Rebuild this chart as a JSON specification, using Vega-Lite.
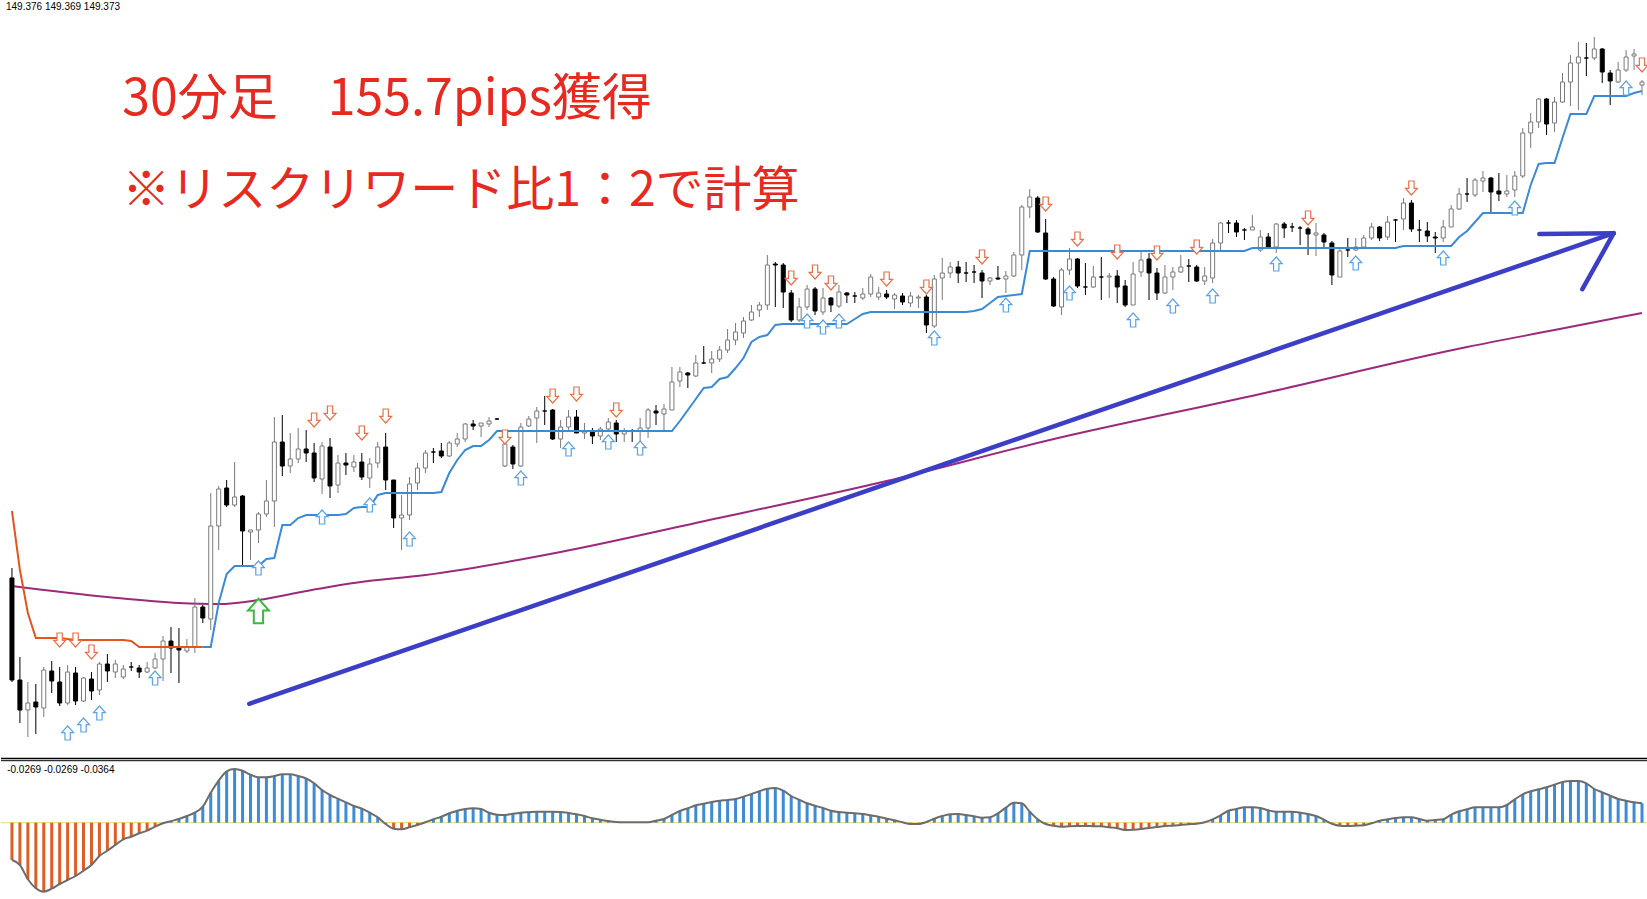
{
"$schema":"https://vega.github.io/schema/vega-lite/v6.json",
"padding":0,"spacing":0,"background":"white",
"config":{"view":{"stroke":null}},
"datasets":{
"c":[
{"i":0,"o":147.110,"h":147.160,"l":146.590,"c":146.600,"s":147.445,"m":-0.0373},
{"i":1,"o":146.600,"h":146.715,"l":146.385,"c":146.450,"s":147.150,"m":-0.0423},
{"i":2,"o":146.450,"h":146.590,"l":146.315,"c":146.485,"s":146.935,"m":-0.0566},
{"i":3,"o":146.490,"h":146.580,"l":146.330,"c":146.465,"s":146.810,"m":-0.0656},
{"i":4,"o":146.460,"h":146.665,"l":146.415,"c":146.650,"s":146.810,"m":-0.0690},
{"i":5,"o":146.645,"h":146.695,"l":146.535,"c":146.595,"s":146.810,"m":-0.0660},
{"i":6,"o":146.590,"h":146.665,"l":146.470,"c":146.485,"s":146.810,"m":-0.0613},
{"i":7,"o":146.485,"h":146.675,"l":146.475,"c":146.640,"s":146.805,"m":-0.0573},
{"i":8,"o":146.635,"h":146.665,"l":146.475,"c":146.495,"s":146.800,"m":-0.0533},
{"i":9,"o":146.495,"h":146.615,"l":146.490,"c":146.610,"s":146.800,"m":-0.0480},
{"i":10,"o":146.605,"h":146.640,"l":146.500,"c":146.545,"s":146.800,"m":-0.0423},
{"i":11,"o":146.550,"h":146.690,"l":146.525,"c":146.680,"s":146.800,"m":-0.0333},
{"i":12,"o":146.680,"h":146.730,"l":146.590,"c":146.645,"s":146.800,"m":-0.0280},
{"i":13,"o":146.640,"h":146.700,"l":146.610,"c":146.680,"s":146.800,"m":-0.0223},
{"i":14,"o":146.615,"h":146.675,"l":146.605,"c":146.655,"s":146.800,"m":-0.0166},
{"i":15,"o":146.665,"h":146.690,"l":146.645,"c":146.665,"s":146.795,"m":-0.0140},
{"i":16,"o":146.660,"h":146.675,"l":146.610,"c":146.640,"s":146.765,"m":-0.0106},
{"i":17,"o":146.640,"h":146.690,"l":146.635,"c":146.660,"s":146.765,"m":-0.0080},
{"i":18,"o":146.660,"h":146.735,"l":146.655,"c":146.705,"s":146.765,"m":-0.0040},
{"i":19,"o":146.705,"h":146.820,"l":146.595,"c":146.795,"s":146.765,"m":-0.0006},
{"i":20,"o":146.795,"h":146.865,"l":146.635,"c":146.760,"s":146.765,"m":0.0016},
{"i":21,"o":146.760,"h":146.860,"l":146.585,"c":146.750,"s":146.765,"m":0.0037},
{"i":22,"o":146.745,"h":146.805,"l":146.735,"c":146.765,"s":146.765,"m":0.0067},
{"i":23,"o":146.765,"h":147.010,"l":146.735,"c":146.965,"s":146.765,"m":0.0100},
{"i":24,"o":146.965,"h":146.975,"l":146.885,"c":146.910,"s":146.765,"m":0.0160},
{"i":25,"o":146.905,"h":147.535,"l":146.850,"c":147.370,"s":146.765,"m":0.0300},
{"i":26,"o":147.370,"h":147.570,"l":147.250,"c":147.555,"s":146.985,"m":0.0420},
{"i":27,"o":147.560,"h":147.600,"l":147.465,"c":147.475,"s":147.130,"m":0.0514},
{"i":28,"o":147.475,"h":147.690,"l":147.465,"c":147.515,"s":147.170,"m":0.0537},
{"i":29,"o":147.520,"h":147.525,"l":147.165,"c":147.345,"s":147.170,"m":0.0520},
{"i":30,"o":147.340,"h":147.350,"l":147.200,"c":147.350,"s":147.170,"m":0.0480},
{"i":31,"o":147.350,"h":147.440,"l":147.285,"c":147.430,"s":147.170,"m":0.0454},
{"i":32,"o":147.430,"h":147.600,"l":147.415,"c":147.495,"s":147.205,"m":0.0454},
{"i":33,"o":147.495,"h":147.915,"l":147.365,"c":147.790,"s":147.210,"m":0.0467},
{"i":34,"o":147.790,"h":147.925,"l":147.620,"c":147.670,"s":147.375,"m":0.0484},
{"i":35,"o":147.670,"h":147.835,"l":147.635,"c":147.705,"s":147.375,"m":0.0484},
{"i":36,"o":147.705,"h":147.860,"l":147.685,"c":147.755,"s":147.410,"m":0.0467},
{"i":37,"o":147.755,"h":147.850,"l":147.690,"c":147.735,"s":147.425,"m":0.0444},
{"i":38,"o":147.735,"h":147.785,"l":147.590,"c":147.610,"s":147.425,"m":0.0394},
{"i":39,"o":147.605,"h":147.790,"l":147.530,"c":147.770,"s":147.425,"m":0.0327},
{"i":40,"o":147.765,"h":147.810,"l":147.510,"c":147.570,"s":147.425,"m":0.0277},
{"i":41,"o":147.575,"h":147.725,"l":147.535,"c":147.685,"s":147.425,"m":0.0240},
{"i":42,"o":147.685,"h":147.735,"l":147.625,"c":147.675,"s":147.430,"m":0.0204},
{"i":43,"o":147.665,"h":147.725,"l":147.640,"c":147.690,"s":147.460,"m":0.0167},
{"i":44,"o":147.690,"h":147.735,"l":147.600,"c":147.615,"s":147.465,"m":0.0140},
{"i":45,"o":147.610,"h":147.710,"l":147.560,"c":147.680,"s":147.465,"m":0.0100},
{"i":46,"o":147.685,"h":147.790,"l":147.660,"c":147.765,"s":147.525,"m":0.0054},
{"i":47,"o":147.765,"h":147.835,"l":147.550,"c":147.600,"s":147.535,"m":-0.0013},
{"i":48,"o":147.600,"h":147.600,"l":147.360,"c":147.410,"s":147.535,"m":-0.0060},
{"i":49,"o":147.410,"h":147.525,"l":147.250,"c":147.425,"s":147.535,"m":-0.0066},
{"i":50,"o":147.425,"h":147.615,"l":147.400,"c":147.580,"s":147.535,"m":-0.0046},
{"i":51,"o":147.585,"h":147.685,"l":147.550,"c":147.660,"s":147.535,"m":-0.0023},
{"i":52,"o":147.660,"h":147.750,"l":147.635,"c":147.735,"s":147.535,"m":0.0004},
{"i":53,"o":147.740,"h":147.760,"l":147.685,"c":147.740,"s":147.535,"m":0.0034},
{"i":54,"o":147.745,"h":147.785,"l":147.710,"c":147.720,"s":147.540,"m":0.0060},
{"i":55,"o":147.720,"h":147.795,"l":147.715,"c":147.785,"s":147.635,"m":0.0094},
{"i":56,"o":147.780,"h":147.835,"l":147.765,"c":147.805,"s":147.700,"m":0.0120},
{"i":57,"o":147.805,"h":147.885,"l":147.790,"c":147.880,"s":147.750,"m":0.0137},
{"i":58,"o":147.880,"h":147.900,"l":147.850,"c":147.870,"s":147.770,"m":0.0144},
{"i":59,"o":147.870,"h":147.885,"l":147.815,"c":147.885,"s":147.770,"m":0.0137},
{"i":60,"o":147.880,"h":147.915,"l":147.865,"c":147.895,"s":147.800,"m":0.0100},
{"i":61,"o":147.905,"h":147.910,"l":147.900,"c":147.905,"s":147.845,"m":0.0080},
{"i":62,"o":147.670,"h":147.800,"l":147.665,"c":147.780,"s":147.845,"m":0.0077},
{"i":63,"o":147.765,"h":147.775,"l":147.655,"c":147.680,"s":147.845,"m":0.0090},
{"i":64,"o":147.670,"h":147.885,"l":147.665,"c":147.865,"s":147.845,"m":0.0100},
{"i":65,"o":147.870,"h":147.920,"l":147.865,"c":147.905,"s":147.845,"m":0.0105},
{"i":66,"o":147.910,"h":147.965,"l":147.785,"c":147.945,"s":147.845,"m":0.0110},
{"i":67,"o":147.945,"h":148.020,"l":147.875,"c":147.945,"s":147.845,"m":0.0110},
{"i":68,"o":147.950,"h":147.955,"l":147.800,"c":147.805,"s":147.845,"m":0.0110},
{"i":69,"o":147.805,"h":147.900,"l":147.760,"c":147.865,"s":147.845,"m":0.0107},
{"i":70,"o":147.865,"h":147.950,"l":147.840,"c":147.915,"s":147.845,"m":0.0097},
{"i":71,"o":147.915,"h":147.950,"l":147.835,"c":147.835,"s":147.845,"m":0.0084},
{"i":72,"o":147.835,"h":147.885,"l":147.805,"c":147.845,"s":147.845,"m":0.0067},
{"i":73,"o":147.840,"h":147.860,"l":147.780,"c":147.820,"s":147.845,"m":0.0044},
{"i":74,"o":147.820,"h":147.865,"l":147.800,"c":147.855,"s":147.845,"m":0.0030},
{"i":75,"o":147.855,"h":147.910,"l":147.840,"c":147.890,"s":147.845,"m":0.0017},
{"i":76,"o":147.885,"h":147.900,"l":147.790,"c":147.830,"s":147.845,"m":0.0007},
{"i":77,"o":147.830,"h":147.860,"l":147.790,"c":147.845,"s":147.845,"m":0.0004},
{"i":78,"o":147.845,"h":147.855,"l":147.790,"c":147.845,"s":147.845,"m":0.0004},
{"i":79,"o":147.845,"h":147.910,"l":147.790,"c":147.860,"s":147.845,"m":0.0004},
{"i":80,"o":147.860,"h":147.960,"l":147.810,"c":147.950,"s":147.845,"m":0.0004},
{"i":81,"o":147.945,"h":147.975,"l":147.875,"c":147.935,"s":147.845,"m":0.0020},
{"i":82,"o":147.930,"h":147.980,"l":147.850,"c":147.955,"s":147.845,"m":0.0037},
{"i":83,"o":147.950,"h":148.165,"l":147.950,"c":148.090,"s":147.845,"m":0.0077},
{"i":84,"o":148.095,"h":148.165,"l":148.065,"c":148.140,"s":147.895,"m":0.0117},
{"i":85,"o":148.135,"h":148.140,"l":148.060,"c":148.125,"s":147.950,"m":0.0144},
{"i":86,"o":148.120,"h":148.225,"l":148.115,"c":148.185,"s":148.005,"m":0.0174},
{"i":87,"o":148.185,"h":148.270,"l":148.180,"c":148.185,"s":148.060,"m":0.0190},
{"i":88,"o":148.185,"h":148.245,"l":148.135,"c":148.205,"s":148.065,"m":0.0207},
{"i":89,"o":148.205,"h":148.270,"l":148.190,"c":148.250,"s":148.105,"m":0.0220},
{"i":90,"o":148.250,"h":148.355,"l":148.235,"c":148.300,"s":148.115,"m":0.0227},
{"i":91,"o":148.300,"h":148.385,"l":148.275,"c":148.340,"s":148.160,"m":0.0237},
{"i":92,"o":148.335,"h":148.415,"l":148.310,"c":148.395,"s":148.210,"m":0.0260},
{"i":93,"o":148.400,"h":148.475,"l":148.395,"c":148.440,"s":148.290,"m":0.0287},
{"i":94,"o":148.450,"h":148.490,"l":148.415,"c":148.475,"s":148.315,"m":0.0314},
{"i":95,"o":148.475,"h":148.725,"l":148.450,"c":148.675,"s":148.325,"m":0.0340},
{"i":96,"o":148.680,"h":148.690,"l":148.465,"c":148.675,"s":148.375,"m":0.0347},
{"i":97,"o":148.675,"h":148.685,"l":148.460,"c":148.540,"s":148.380,"m":0.0320},
{"i":98,"o":148.535,"h":148.550,"l":148.390,"c":148.400,"s":148.380,"m":0.0267},
{"i":99,"o":148.400,"h":148.510,"l":148.390,"c":148.465,"s":148.380,"m":0.0230},
{"i":100,"o":148.465,"h":148.575,"l":148.450,"c":148.555,"s":148.380,"m":0.0194},
{"i":101,"o":148.555,"h":148.565,"l":148.425,"c":148.445,"s":148.380,"m":0.0170},
{"i":102,"o":148.440,"h":148.560,"l":148.425,"c":148.510,"s":148.380,"m":0.0147},
{"i":103,"o":148.510,"h":148.515,"l":148.440,"c":148.475,"s":148.380,"m":0.0120},
{"i":104,"o":148.470,"h":148.575,"l":148.460,"c":148.540,"s":148.380,"m":0.0107},
{"i":105,"o":148.535,"h":148.540,"l":148.485,"c":148.525,"s":148.380,"m":0.0100},
{"i":106,"o":148.520,"h":148.540,"l":148.485,"c":148.520,"s":148.405,"m":0.0094},
{"i":107,"o":148.510,"h":148.560,"l":148.500,"c":148.530,"s":148.430,"m":0.0087},
{"i":108,"o":148.530,"h":148.630,"l":148.515,"c":148.615,"s":148.440,"m":0.0074},
{"i":109,"o":148.515,"h":148.565,"l":148.500,"c":148.535,"s":148.440,"m":0.0060},
{"i":110,"o":148.530,"h":148.550,"l":148.505,"c":148.515,"s":148.440,"m":0.0040},
{"i":111,"o":148.505,"h":148.535,"l":148.455,"c":148.525,"s":148.440,"m":0.0024},
{"i":112,"o":148.520,"h":148.535,"l":148.475,"c":148.490,"s":148.440,"m":0.0004},
{"i":113,"o":148.485,"h":148.540,"l":148.465,"c":148.520,"s":148.440,"m":-0.0013},
{"i":114,"o":148.510,"h":148.525,"l":148.460,"c":148.515,"s":148.440,"m":-0.0013},
{"i":115,"o":148.515,"h":148.525,"l":148.335,"c":148.375,"s":148.440,"m":0.0007},
{"i":116,"o":148.370,"h":148.625,"l":148.360,"c":148.605,"s":148.440,"m":0.0040},
{"i":117,"o":148.610,"h":148.710,"l":148.500,"c":148.635,"s":148.440,"m":0.0067},
{"i":118,"o":148.635,"h":148.690,"l":148.610,"c":148.665,"s":148.440,"m":0.0084},
{"i":119,"o":148.665,"h":148.695,"l":148.585,"c":148.635,"s":148.440,"m":0.0087},
{"i":120,"o":148.635,"h":148.690,"l":148.590,"c":148.635,"s":148.440,"m":0.0077},
{"i":121,"o":148.640,"h":148.675,"l":148.585,"c":148.640,"s":148.445,"m":0.0064},
{"i":122,"o":148.635,"h":148.650,"l":148.510,"c":148.595,"s":148.455,"m":0.0050},
{"i":123,"o":148.595,"h":148.615,"l":148.575,"c":148.610,"s":148.485,"m":0.0054},
{"i":124,"o":148.610,"h":148.670,"l":148.600,"c":148.605,"s":148.515,"m":0.0094},
{"i":125,"o":148.605,"h":148.645,"l":148.535,"c":148.620,"s":148.520,"m":0.0150},
{"i":126,"o":148.620,"h":148.740,"l":148.615,"c":148.725,"s":148.525,"m":0.0200},
{"i":127,"o":148.725,"h":148.975,"l":148.650,"c":148.965,"s":148.530,"m":0.0194},
{"i":128,"o":148.965,"h":149.055,"l":148.910,"c":149.015,"s":148.745,"m":0.0110},
{"i":129,"o":149.010,"h":149.020,"l":148.835,"c":148.840,"s":148.745,"m":0.0034},
{"i":130,"o":148.835,"h":148.905,"l":148.600,"c":148.605,"s":148.745,"m":-0.0013},
{"i":131,"o":148.605,"h":148.615,"l":148.465,"c":148.470,"s":148.745,"m":-0.0030},
{"i":132,"o":148.465,"h":148.660,"l":148.425,"c":148.650,"s":148.745,"m":-0.0040},
{"i":133,"o":148.650,"h":148.760,"l":148.625,"c":148.705,"s":148.745,"m":-0.0036},
{"i":134,"o":148.705,"h":148.710,"l":148.560,"c":148.570,"s":148.745,"m":-0.0034},
{"i":135,"o":148.565,"h":148.685,"l":148.525,"c":148.565,"s":148.745,"m":-0.0033},
{"i":136,"o":148.565,"h":148.670,"l":148.560,"c":148.615,"s":148.745,"m":-0.0035},
{"i":137,"o":148.615,"h":148.715,"l":148.500,"c":148.615,"s":148.745,"m":-0.0036},
{"i":138,"o":148.615,"h":148.635,"l":148.510,"c":148.620,"s":148.745,"m":-0.0046},
{"i":139,"o":148.620,"h":148.650,"l":148.485,"c":148.565,"s":148.745,"m":-0.0056},
{"i":140,"o":148.570,"h":148.600,"l":148.465,"c":148.475,"s":148.745,"m":-0.0073},
{"i":141,"o":148.475,"h":148.690,"l":148.475,"c":148.630,"s":148.745,"m":-0.0070},
{"i":142,"o":148.640,"h":148.750,"l":148.615,"c":148.700,"s":148.745,"m":-0.0063},
{"i":143,"o":148.705,"h":148.735,"l":148.500,"c":148.635,"s":148.745,"m":-0.0053},
{"i":144,"o":148.635,"h":148.660,"l":148.500,"c":148.535,"s":148.745,"m":-0.0043},
{"i":145,"o":148.535,"h":148.675,"l":148.530,"c":148.615,"s":148.745,"m":-0.0033},
{"i":146,"o":148.615,"h":148.665,"l":148.550,"c":148.640,"s":148.745,"m":-0.0030},
{"i":147,"o":148.640,"h":148.725,"l":148.635,"c":148.665,"s":148.745,"m":-0.0023},
{"i":148,"o":148.670,"h":148.705,"l":148.590,"c":148.670,"s":148.745,"m":-0.0016},
{"i":149,"o":148.665,"h":148.675,"l":148.590,"c":148.595,"s":148.745,"m":-0.0010},
{"i":150,"o":148.595,"h":148.665,"l":148.575,"c":148.620,"s":148.745,"m":0.0004},
{"i":151,"o":148.610,"h":148.805,"l":148.585,"c":148.785,"s":148.745,"m":0.0034},
{"i":152,"o":148.785,"h":148.890,"l":148.740,"c":148.885,"s":148.745,"m":0.0074},
{"i":153,"o":148.885,"h":148.900,"l":148.835,"c":148.885,"s":148.745,"m":0.0120},
{"i":154,"o":148.885,"h":148.900,"l":148.815,"c":148.840,"s":148.745,"m":0.0137},
{"i":155,"o":148.850,"h":148.860,"l":148.800,"c":148.850,"s":148.745,"m":0.0154},
{"i":156,"o":148.850,"h":148.925,"l":148.850,"c":148.865,"s":148.760,"m":0.0154},
{"i":157,"o":148.750,"h":148.850,"l":148.740,"c":148.815,"s":148.760,"m":0.0147},
{"i":158,"o":148.815,"h":148.835,"l":148.760,"c":148.765,"s":148.760,"m":0.0124},
{"i":159,"o":148.765,"h":148.885,"l":148.735,"c":148.880,"s":148.760,"m":0.0110},
{"i":160,"o":148.880,"h":148.890,"l":148.810,"c":148.860,"s":148.760,"m":0.0110},
{"i":161,"o":148.865,"h":148.885,"l":148.840,"c":148.865,"s":148.760,"m":0.0110},
{"i":162,"o":148.860,"h":148.870,"l":148.775,"c":148.860,"s":148.760,"m":0.0100},
{"i":163,"o":148.855,"h":148.865,"l":148.725,"c":148.830,"s":148.760,"m":0.0087},
{"i":164,"o":148.825,"h":148.885,"l":148.720,"c":148.835,"s":148.760,"m":0.0067},
{"i":165,"o":148.825,"h":148.835,"l":148.765,"c":148.790,"s":148.760,"m":0.0030},
{"i":166,"o":148.785,"h":148.795,"l":148.575,"c":148.625,"s":148.760,"m":-0.0010},
{"i":167,"o":148.615,"h":148.760,"l":148.615,"c":148.745,"s":148.760,"m":-0.0030},
{"i":168,"o":148.750,"h":148.810,"l":148.715,"c":148.750,"s":148.760,"m":-0.0033},
{"i":169,"o":148.750,"h":148.810,"l":148.745,"c":148.765,"s":148.760,"m":-0.0030},
{"i":170,"o":148.765,"h":148.825,"l":148.755,"c":148.810,"s":148.760,"m":-0.0026},
{"i":171,"o":148.810,"h":148.885,"l":148.800,"c":148.865,"s":148.760,"m":-0.0006},
{"i":172,"o":148.865,"h":148.870,"l":148.795,"c":148.810,"s":148.760,"m":0.0020},
{"i":173,"o":148.815,"h":148.920,"l":148.800,"c":148.890,"s":148.760,"m":0.0034},
{"i":174,"o":148.900,"h":148.905,"l":148.790,"c":148.900,"s":148.760,"m":0.0047},
{"i":175,"o":148.905,"h":149.010,"l":148.850,"c":148.985,"s":148.770,"m":0.0054},
{"i":176,"o":148.985,"h":149.000,"l":148.840,"c":148.855,"s":148.770,"m":0.0054},
{"i":177,"o":148.850,"h":148.900,"l":148.790,"c":148.850,"s":148.770,"m":0.0037},
{"i":178,"o":148.845,"h":148.890,"l":148.790,"c":148.820,"s":148.770,"m":0.0020},
{"i":179,"o":148.815,"h":148.840,"l":148.735,"c":148.810,"s":148.770,"m":0.0027},
{"i":180,"o":148.810,"h":148.900,"l":148.790,"c":148.865,"s":148.770,"m":0.0034},
{"i":181,"o":148.865,"h":148.975,"l":148.865,"c":148.955,"s":148.770,"m":0.0080},
{"i":182,"o":148.955,"h":149.060,"l":148.950,"c":149.030,"s":148.815,"m":0.0114},
{"i":183,"o":149.030,"h":149.110,"l":148.990,"c":149.030,"s":148.845,"m":0.0134},
{"i":184,"o":149.025,"h":149.110,"l":149.015,"c":149.100,"s":148.890,"m":0.0154},
{"i":185,"o":149.095,"h":149.145,"l":149.040,"c":149.110,"s":148.935,"m":0.0154},
{"i":186,"o":149.110,"h":149.115,"l":148.935,"c":149.040,"s":148.935,"m":0.0154},
{"i":187,"o":149.045,"h":149.135,"l":148.995,"c":149.030,"s":148.935,"m":0.0154},
{"i":188,"o":149.030,"h":149.125,"l":149.015,"c":149.045,"s":148.935,"m":0.0177},
{"i":189,"o":149.050,"h":149.145,"l":149.015,"c":149.120,"s":148.935,"m":0.0234},
{"i":190,"o":149.120,"h":149.360,"l":149.110,"c":149.335,"s":148.935,"m":0.0284},
{"i":191,"o":149.335,"h":149.435,"l":149.260,"c":149.390,"s":149.075,"m":0.0314},
{"i":192,"o":149.390,"h":149.510,"l":149.360,"c":149.505,"s":149.180,"m":0.0334},
{"i":193,"o":149.505,"h":149.510,"l":149.325,"c":149.380,"s":149.185,"m":0.0354},
{"i":194,"o":149.385,"h":149.515,"l":149.340,"c":149.490,"s":149.185,"m":0.0380},
{"i":195,"o":149.490,"h":149.635,"l":149.485,"c":149.590,"s":149.310,"m":0.0407},
{"i":196,"o":149.590,"h":149.725,"l":149.470,"c":149.685,"s":149.430,"m":0.0417},
{"i":197,"o":149.685,"h":149.790,"l":149.450,"c":149.715,"s":149.430,"m":0.0417},
{"i":198,"o":149.710,"h":149.785,"l":149.620,"c":149.710,"s":149.430,"m":0.0394},
{"i":199,"o":149.710,"h":149.815,"l":149.700,"c":149.755,"s":149.520,"m":0.0337},
{"i":200,"o":149.755,"h":149.760,"l":149.585,"c":149.640,"s":149.520,"m":0.0304},
{"i":201,"o":149.635,"h":149.650,"l":149.475,"c":149.595,"s":149.520,"m":0.0270},
{"i":202,"o":149.590,"h":149.690,"l":149.585,"c":149.650,"s":149.520,"m":0.0237},
{"i":203,"o":149.650,"h":149.750,"l":149.640,"c":149.715,"s":149.520,"m":0.0220},
{"i":204,"o":149.720,"h":149.755,"l":149.650,"c":149.730,"s":149.535,"m":0.0204},
{"i":205,"o":149.575,"h":149.600,"l":149.525,"c":149.590,"s":149.545,"m":0.0194}
],
"ma":[
{"i":0,"p":147.070},{"i":12,"p":147.015},{"i":21,"p":146.985},{"i":26,"p":146.980},{"i":31,"p":147.000},{"i":37,"p":147.045},{"i":43,"p":147.085},{"i":52,"p":147.125},{"i":69,"p":147.240},{"i":86,"p":147.385},{"i":110,"p":147.595},{"i":130,"p":147.795},{"i":157,"p":148.030},{"i":183,"p":148.265},{"i":194,"p":148.350},{"i":205,"p":148.435}
],
"arr":[
{"i":6,"p":146.800,"t":"d"},{"i":8,"p":146.800,"t":"d"},{"i":10,"p":146.740,"t":"d"},{"i":38,"p":147.900,"t":"d"},{"i":40,"p":147.935,"t":"d"},{"i":44,"p":147.835,"t":"d"},{"i":47,"p":147.920,"t":"d"},{"i":62,"p":147.815,"t":"d"},{"i":68,"p":148.020,"t":"d"},{"i":71,"p":148.030,"t":"d"},{"i":76,"p":147.950,"t":"d"},{"i":98,"p":148.610,"t":"d"},{"i":101,"p":148.640,"t":"d"},{"i":103,"p":148.585,"t":"d"},{"i":110,"p":148.605,"t":"d"},{"i":115,"p":148.565,"t":"d"},{"i":122,"p":148.715,"t":"d"},{"i":130,"p":148.980,"t":"d"},{"i":134,"p":148.805,"t":"d"},{"i":139,"p":148.740,"t":"d"},{"i":144,"p":148.735,"t":"d"},{"i":149,"p":148.765,"t":"d"},{"i":163,"p":148.910,"t":"d"},{"i":176,"p":149.060,"t":"d"},{"i":205,"p":149.675,"t":"d"},
{"i":7,"p":146.335,"t":"u"},{"i":9,"p":146.375,"t":"u"},{"i":11,"p":146.435,"t":"u"},{"i":18,"p":146.610,"t":"u"},{"i":31,"p":147.160,"t":"u"},{"i":39,"p":147.415,"t":"u"},{"i":45,"p":147.475,"t":"u"},{"i":50,"p":147.305,"t":"u"},{"i":64,"p":147.610,"t":"u"},{"i":70,"p":147.755,"t":"u"},{"i":75,"p":147.790,"t":"u"},{"i":79,"p":147.760,"t":"u"},{"i":100,"p":148.395,"t":"u"},{"i":102,"p":148.365,"t":"u"},{"i":104,"p":148.395,"t":"u"},{"i":116,"p":148.310,"t":"u"},{"i":125,"p":148.475,"t":"u"},{"i":133,"p":148.535,"t":"u"},{"i":141,"p":148.400,"t":"u"},{"i":146,"p":148.470,"t":"u"},{"i":151,"p":148.520,"t":"u"},{"i":159,"p":148.680,"t":"u"},{"i":169,"p":148.685,"t":"u"},{"i":180,"p":148.710,"t":"u"},{"i":189,"p":148.960,"t":"u"},{"i":203,"p":149.560,"t":"u"},
{"i":31,"p":146.945,"t":"g"}
],
"trend":[
{"g":1,"i":29.84,"p":146.481},{"g":1,"i":201.44,"p":148.834},
{"g":2,"i":192.09,"p":148.830},{"g":2,"i":201.44,"p":148.834},
{"g":3,"i":197.5,"p":148.554},{"g":3,"i":201.44,"p":148.834}
]
},
"vconcat":[
{
"width":1647,"height":757,
"layer":[
{"data":{"name":"ma"},"mark":{"type":"line","color":"#9c2a7c","strokeWidth":2,"interpolate":"monotone","clip":true},
 "encoding":{"x":{"field":"i","type":"quantitative","scale":{"domain":[-0.75,205.125],"nice":false,"zero":false},"axis":null},
 "y":{"field":"p","type":"quantitative","scale":{"domain":[146.215,150],"nice":false,"zero":false},"axis":null}}},
{"data":{"name":"c"},"mark":{"type":"rule","strokeWidth":1,"clip":true},
 "encoding":{"x":{"field":"i","type":"quantitative","scale":{"domain":[-0.75,205.125],"nice":false,"zero":false},"axis":null},
 "y":{"field":"h","type":"quantitative","scale":{"domain":[146.215,150],"nice":false,"zero":false},"axis":null},
 "y2":{"field":"l"},
 "color":{"condition":{"test":"datum.c > datum.o","value":"#7a7a7a"},"value":"#000000"}}},
{"data":{"name":"c"},"mark":{"type":"bar","width":4,"strokeWidth":1,"clip":true},
 "encoding":{"x":{"field":"i","type":"quantitative","scale":{"domain":[-0.75,205.125],"nice":false,"zero":false},"axis":null},
 "y":{"field":"o","type":"quantitative","scale":{"domain":[146.215,150],"nice":false,"zero":false},"axis":null},
 "y2":{"field":"c"},
 "fill":{"condition":{"test":"datum.c > datum.o","value":"#ffffff"},"value":"#000000"},
 "stroke":{"condition":{"test":"datum.c > datum.o","value":"#7a7a7a"},"value":"#000000"}}},
{"data":{"name":"c"},"transform":[{"filter":"datum.i <= 24"}],"mark":{"type":"line","color":"#e2561c","strokeWidth":2,"clip":true},
 "encoding":{"x":{"field":"i","type":"quantitative","scale":{"domain":[-0.75,205.125],"nice":false,"zero":false},"axis":null},
 "y":{"field":"s","type":"quantitative","scale":{"domain":[146.215,150],"nice":false,"zero":false},"axis":null}}},
{"data":{"name":"c"},"transform":[{"filter":"datum.i >= 24"}],"mark":{"type":"line","color":"#3a8ad6","strokeWidth":2,"clip":true},
 "encoding":{"x":{"field":"i","type":"quantitative","scale":{"domain":[-0.75,205.125],"nice":false,"zero":false},"axis":null},
 "y":{"field":"s","type":"quantitative","scale":{"domain":[146.215,150],"nice":false,"zero":false},"axis":null}}},
{"data":{"name":"arr"},"transform":[{"filter":"datum.t == 'd'"}],
 "mark":{"type":"point","shape":"M-0.38,-1L0.38,-1L0.38,0.05L0.85,0.05L0,1L-0.85,0.05L-0.38,0.05Z","size":196,"filled":true,"fill":"#ffffff","stroke":"#e8704a","strokeWidth":1.2,"opacity":1,"clip":true},
 "encoding":{"x":{"field":"i","type":"quantitative","scale":{"domain":[-0.75,205.125],"nice":false,"zero":false},"axis":null},
 "y":{"field":"p","type":"quantitative","scale":{"domain":[146.215,150],"nice":false,"zero":false},"axis":null}}},
{"data":{"name":"arr"},"transform":[{"filter":"datum.t == 'u'"}],
 "mark":{"type":"point","shape":"M-0.38,1L0.38,1L0.38,-0.05L0.85,-0.05L0,-1L-0.85,-0.05L-0.38,-0.05Z","size":196,"filled":true,"fill":"#ffffff","stroke":"#5aa3e4","strokeWidth":1.2,"opacity":1,"clip":true},
 "encoding":{"x":{"field":"i","type":"quantitative","scale":{"domain":[-0.75,205.125],"nice":false,"zero":false},"axis":null},
 "y":{"field":"p","type":"quantitative","scale":{"domain":[146.215,150],"nice":false,"zero":false},"axis":null}}},
{"data":{"name":"arr"},"transform":[{"filter":"datum.t == 'g'"}],
 "mark":{"type":"point","shape":"M-0.38,1L0.38,1L0.38,-0.05L0.85,-0.05L0,-1L-0.85,-0.05L-0.38,-0.05Z","size":600,"filled":true,"fill":"#ffffff","stroke":"#3cb83c","strokeWidth":2,"opacity":1,"clip":true},
 "encoding":{"x":{"field":"i","type":"quantitative","scale":{"domain":[-0.75,205.125],"nice":false,"zero":false},"axis":null},
 "y":{"field":"p","type":"quantitative","scale":{"domain":[146.215,150],"nice":false,"zero":false},"axis":null}}},
{"data":{"name":"trend"},"mark":{"type":"line","color":"#3c3fc6","strokeWidth":4.5,"strokeCap":"round","clip":true},
 "encoding":{"x":{"field":"i","type":"quantitative","scale":{"domain":[-0.75,205.125],"nice":false,"zero":false},"axis":null},
 "y":{"field":"p","type":"quantitative","scale":{"domain":[146.215,150],"nice":false,"zero":false},"axis":null},
 "detail":{"field":"g"}}},
{"data":{"values":[{}]},"mark":{"type":"text","align":"left","baseline":"middle","font":"Noto Sans CJK JP","fontSize":50,"color":"#e8291f"},
 "encoding":{"x":{"datum":13.875,"type":"quantitative","scale":{"domain":[-0.75,205.125],"nice":false,"zero":false},"axis":null},
 "y":{"datum":149.5,"type":"quantitative","scale":{"domain":[146.215,150],"nice":false,"zero":false},"axis":null},
 "text":{"value":"30分足　155.7pips獲得"}}},
{"data":{"values":[{}]},"mark":{"type":"text","align":"left","baseline":"middle","font":"Noto Sans CJK JP","fontSize":48,"color":"#e8291f"},
 "encoding":{"x":{"datum":13.875,"type":"quantitative","scale":{"domain":[-0.75,205.125],"nice":false,"zero":false},"axis":null},
 "y":{"datum":149.04,"type":"quantitative","scale":{"domain":[146.215,150],"nice":false,"zero":false},"axis":null},
 "text":{"value":"※リスクリワード比1：2で計算"}}},
{"data":{"values":[{}]},"mark":{"type":"text","align":"left","baseline":"middle","font":"Liberation Sans","fontSize":10,"color":"#000000"},
 "encoding":{"x":{"datum":-0.75,"type":"quantitative","scale":{"domain":[-0.75,205.125],"nice":false,"zero":false},"axis":null},
 "y":{"datum":149.965,"type":"quantitative","scale":{"domain":[146.215,150],"nice":false,"zero":false},"axis":null},
 "text":{"value":"149.376 149.369 149.373"}}}
]
},
{
"width":1647,"height":142,
"layer":[
{"data":{"values":[{}]},"mark":{"type":"rule","color":"#f2d36a","strokeWidth":1},
 "encoding":{"y":{"datum":0,"type":"quantitative","scale":{"domain":[-0.0763,0.0657],"nice":false,"zero":false},"axis":null}}},
{"data":{"name":"c"},"mark":{"type":"bar","width":3,"clip":true},
 "encoding":{"x":{"field":"i","type":"quantitative","scale":{"domain":[-0.75,205.125],"nice":false,"zero":false},"axis":null},
 "y":{"field":"m","type":"quantitative","scale":{"domain":[-0.0763,0.0657],"nice":false,"zero":false},"axis":null},
 "y2":{"datum":0},
 "color":{"condition":{"test":"datum.m >= 0","value":"#3d8bd6"},"value":"#dd5f26"}}},
{"data":{"name":"c"},"mark":{"type":"line","color":"#6c6c6c","strokeWidth":2,"interpolate":"monotone","clip":true},
 "encoding":{"x":{"field":"i","type":"quantitative","scale":{"domain":[-0.75,205.125],"nice":false,"zero":false},"axis":null},
 "y":{"field":"m","type":"quantitative","scale":{"domain":[-0.0763,0.0657],"nice":false,"zero":false},"axis":null}}},
{"data":{"values":[{}]},"mark":{"type":"rule","color":"#000000","strokeWidth":1.5},
 "encoding":{"y":{"datum":0.0642,"type":"quantitative","scale":{"domain":[-0.0763,0.0657],"nice":false,"zero":false},"axis":null}}},
{"data":{"values":[{}]},"mark":{"type":"rule","color":"#000000","strokeWidth":1},
 "encoding":{"y":{"datum":0.0620,"type":"quantitative","scale":{"domain":[-0.0763,0.0657],"nice":false,"zero":false},"axis":null}}},
{"data":{"values":[{}]},"mark":{"type":"text","align":"left","baseline":"middle","font":"Liberation Sans","fontSize":10,"color":"#000000"},
 "encoding":{"x":{"datum":-0.6,"type":"quantitative","scale":{"domain":[-0.75,205.125],"nice":false,"zero":false},"axis":null},
 "y":{"datum":0.0527,"type":"quantitative","scale":{"domain":[-0.0763,0.0657],"nice":false,"zero":false},"axis":null},
 "text":{"value":"-0.0269 -0.0269 -0.0364"}}}
]
}
]
}
